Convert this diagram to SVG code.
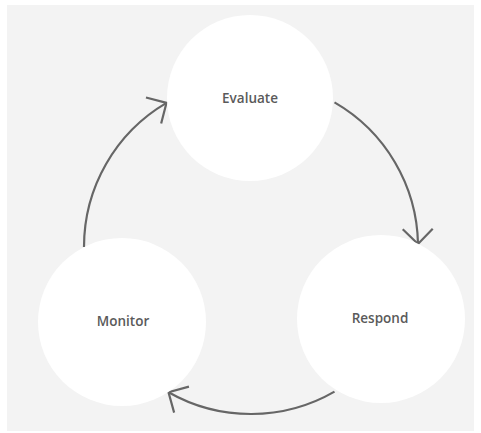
<svg xmlns="http://www.w3.org/2000/svg" width="481" height="433" viewBox="0 0 481 433">
<defs>
<style>
.node{fill:#ffffff}
.lbl{font-family:"Open Sans","Liberation Sans",sans-serif;font-size:13.5px;font-weight:600;fill:#5a5a5a;text-anchor:middle;dominant-baseline:central}
.conn{fill:none;stroke:#666666;stroke-width:2.2}
</style>
<marker id="arr" markerUnits="userSpaceOnUse" markerWidth="40" markerHeight="40" refX="0" refY="0" viewBox="-20 -20 40 40" orient="auto" overflow="visible">
<path d="M-15,-15 L0,0 L-15,15" fill="none" stroke="#666666" stroke-width="2.2" stroke-linejoin="miter"/>
</marker>
</defs>
<rect x="0" y="0" width="481" height="433" fill="#ffffff"/>
<rect x="7" y="5" width="467" height="426" fill="#f3f3f3"/>
<g id="connectors">
<path class="conn" d="M334.5,102.4 A167,167 0 0 1 418,244" marker-end="url(#arr)"/>
<path class="conn" d="M334.5,391.6 A167,167 0 0 1 168.5,392.2" marker-end="url(#arr)"/>
<path class="conn" d="M84,247 A167,167 0 0 1 166.5,102.9" marker-end="url(#arr)"/>
</g>
<g id="evaluate">
<circle class="node" cx="250" cy="98" r="83"/>
<text class="lbl" x="250" y="98">Evaluate</text>
</g>
<g id="respond">
<circle class="node" cx="381" cy="319" r="84"/>
<text class="lbl" x="380" y="318">Respond</text>
</g>
<g id="monitor">
<circle class="node" cx="122" cy="322" r="84"/>
<text class="lbl" x="123" y="321">Monitor</text>
</g>
</svg>
